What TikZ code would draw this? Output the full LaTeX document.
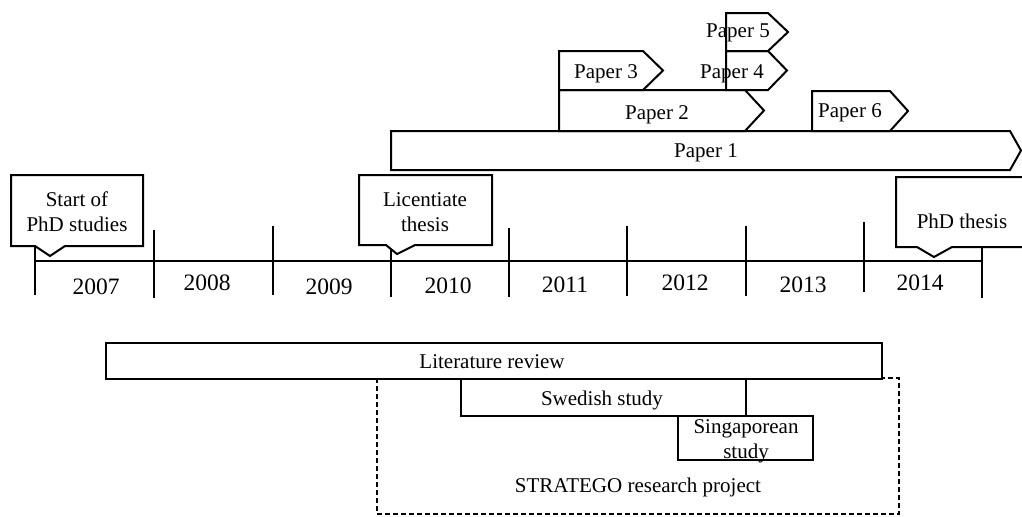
\documentclass[tikz,border=0pt]{standalone}
\usepackage{fontspec}
\setmainfont{Liberation Serif}
\begin{document}
\begin{tikzpicture}[x=0.5pt,y=-0.5pt,
  bar/.style={draw=black,line width=1pt,fill=white,line join=miter},
  lbl/.style={font=\fontsize{10.5}{12.5}\selectfont,inner sep=0pt,anchor=base},
  twoline/.style={font=\fontsize{10.5}{12.5}\selectfont,inner sep=0pt,align=center},
  yr/.style={font=\fontsize{11.75}{14}\selectfont,inner sep=0pt,anchor=base},
  tickline/.style={line width=1pt},
  frame/.style={draw=black,line width=1pt,dash pattern=on 2.5pt off 1.5pt}]

\useasboundingbox (0,0) rectangle (1022,516);
\clip (0,0) rectangle (1022,516);

% ---------- time axis ----------
\coordinate (axL) at (35,261);
\coordinate (axR) at (982,261);
\draw[tickline] (axL) -- (axR);
\draw[tickline] (35,240) -- (35,295);
\draw[tickline] (154,230) -- (154,298);
\draw[tickline] (273,226) -- (273,295);
\draw[tickline] (391,230) -- (391,297);
\draw[tickline] (509,228) -- (509,297);
\draw[tickline] (627,226) -- (627,296);
\draw[tickline] (746,226) -- (746,296);
\draw[tickline] (864,222) -- (864,292);
\draw[tickline] (982,230) -- (982,298);

\node[yr] (y2007) at (96,294) {2007};
\node[yr] (y2008) at (207,290) {2008};
\node[yr] (y2009) at (329,294) {2009};
\node[yr] (y2010) at (448,293) {2010};
\node[yr] (y2011) at (565,292) {2011};
\node[yr] (y2012) at (685,290) {2012};
\node[yr] (y2013) at (803,292) {2013};
\node[yr] (y2014) at (920,290) {2014};

% ---------- milestone callouts ----------
\draw[bar] (11,175) -- (143,175) -- (143,246) -- (65,246) -- (50,256)
  -- (35,246) -- (11,246) -- cycle;
\node[twoline] (start) at (77,212) {Start of\\PhD studies};

\draw[bar] (359,175) -- (492,175) -- (492,245) -- (415,245) -- (397,254)
  -- (386,245) -- (359,245) -- cycle;
\node[twoline] (lic) at (425,212) {Licentiate\\thesis};

\draw[bar] (896,177) -- (1030,177) -- (1030,247) -- (952,247) -- (934,257)
  -- (917,247) -- (896,247) -- cycle;
\node[lbl] (phd) at (962,228) {PhD thesis};

% ---------- papers ----------
\draw[bar] (391,131) -- (1010,131) -- (1021,150.5) -- (1010,170) -- (391,170) -- cycle;
\node[lbl] (p1) at (706,157) {Paper 1};

\draw[bar] (559,90) -- (745,90) -- (764,110.5) -- (745,131) -- (559,131) -- cycle;
\node[lbl] (p2) at (657,119) {Paper 2};

\draw[bar] (812,91) -- (890,91) -- (908,111) -- (890,131) -- (812,131) -- cycle;
\node[lbl] (p6) at (850,117) {Paper 6};

\draw[bar] (559,51) -- (643,51) -- (663,70.5) -- (643,90) -- (559,90) -- cycle;
\node[lbl] (p3) at (606,78) {Paper 3};

\draw[bar] (726,51) -- (768,51) -- (787,70.5) -- (768,90) -- (726,90) -- cycle;
\node[lbl] (p4) at (732,78) {Paper 4};

\draw[bar] (726,13) -- (768,13) -- (788,32) -- (768,51) -- (726,51) -- cycle;
\node[lbl] (p5) at (738,37) {Paper 5};

% ---------- studies and project ----------
\draw[frame] (377,378) rectangle (899,514);

\draw[bar] (106,343) rectangle (882,379);
\node[lbl] (lit) at (492,368) {Literature review};

\draw[bar] (461,379) rectangle (746,416);
\node[lbl] (swe) at (602,405) {Swedish study};

\draw[bar] (678,416) rectangle (813,460);
\node[twoline] (sgp) at (746,441) {Singaporean\\study};

\node[lbl] (proj) at (638,492) {STRATEGO research project};
\end{tikzpicture}
\end{document}
